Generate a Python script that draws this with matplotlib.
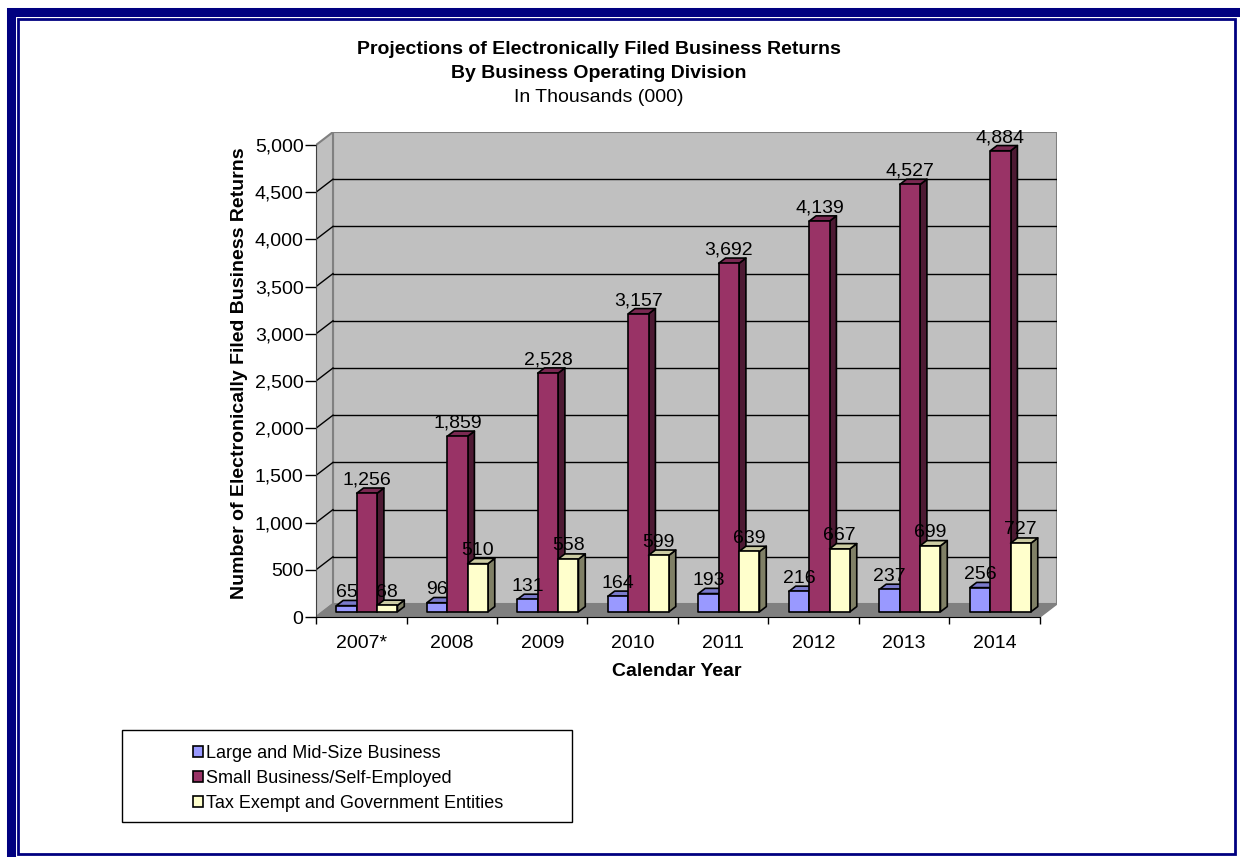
import matplotlib
matplotlib.use('Agg')
import matplotlib.pyplot as plt
from matplotlib.patches import Polygon, Rectangle, Patch
from matplotlib.ticker import FuncFormatter

plt.rcParams['font.family'] = ['Liberation Sans', 'DejaVu Sans']

# data (thousands of returns)
years = ['2007*', '2008', '2009', '2010', '2011', '2012', '2013', '2014']
lmsb = [65, 96, 131, 164, 193, 216, 237, 256]
sbse = [1256, 1859, 2528, 3157, 3692, 4139, 4527, 4884]
tege = [68, 510, 558, 599, 639, 667, 699, 727]
series_names = ['Large and Mid-Size Business',
                'Small Business/Self-Employed',
                'Tax Exempt and Government Entities']

front_cols = ['#9999FF', '#993366', '#FFFFCC']
top_cols = ['#7A7ACC', '#7A2952', '#CCCCA3']
side_cols = ['#4D4D80', '#4D1A33', '#808066']

W, H = 1240, 857
fig = plt.figure(figsize=(W / 100, H / 100), dpi=100)
fig.patch.set_facecolor('white')


def fx(px):
    return px / W


def fy(py):
    return 1 - py / H


# navy page frame
navy = '#000080'
fig.add_artist(Rectangle((fx(11), fy(870)), fx(1250 - 11), (870 - 11.5) / H, fill=False,
                         edgecolor=navy, linewidth=6.5, transform=fig.transFigure))
fig.add_artist(Rectangle((fx(18), fy(854)), fx(1235 - 18), (854 - 19) / H, fill=False,
                         edgecolor=navy, linewidth=2, transform=fig.transFigure))

# 3-D oblique geometry: depth shift in category / value units
n = len(years)
DX = 17 / 90.5
DY = 138.0
ymax = 5000

ax = fig.add_axes([fx(316), fy(617), fx(1057 - 316), (617 - 132) / H])
ax.set_xlim(0, n + DX)
ax.set_ylim(0, ymax + DY)
ax.patch.set_visible(False)


def proj(x, y, z):
    return (x + z * DX, y + z * DY)


# walls and floor
wall = '#C0C0C0'
edge = '#808080'
ax.add_patch(Polygon([proj(0, 0, 1), proj(n, 0, 1), proj(n, ymax, 1), proj(0, ymax, 1)],
                     closed=True, facecolor=wall, edgecolor=edge, linewidth=1.5, zorder=1))
ax.add_patch(Polygon([proj(0, 0, 0), proj(0, 0, 1), proj(0, ymax, 1), proj(0, ymax, 0)],
                     closed=True, facecolor=wall, edgecolor=edge, linewidth=1.5, zorder=1))
ax.add_patch(Polygon([proj(0, 0, 0), proj(n, 0, 0), proj(n, 0, 1), proj(0, 0, 1)],
                     closed=True, facecolor='#808080', edgecolor='#808080', linewidth=1, zorder=2))

# gridlines on back and side wall
for v in range(500, ymax, 500):
    x0, y0 = proj(0, v, 1)
    x1, y1 = proj(n, v, 1)
    ax.plot([x0, x1], [y0, y1], color='black', linewidth=1, zorder=1.5)
    ax.plot([0, x0], [v, y0], color='black', linewidth=1, zorder=1.5)

# bars
bar_w = 0.225
z0, z1 = 0.4, 0.8
all_series = [lmsb, sbse, tege]
for i in range(n):
    for k, vals in enumerate(all_series):
        h = vals[i]
        a = i + 0.15 + k * bar_w
        b = a + bar_w
        zo = 3 + i * 0.1 + k * 0.01
        front = [proj(a, 0, z0), proj(b, 0, z0), proj(b, h, z0), proj(a, h, z0)]
        side = [proj(b, 0, z0), proj(b, 0, z1), proj(b, h, z1), proj(b, h, z0)]
        top = [proj(a, h, z0), proj(b, h, z0), proj(b, h, z1), proj(a, h, z1)]
        ax.add_patch(Polygon(side, closed=True, facecolor=side_cols[k], edgecolor='black',
                             linewidth=1.2, zorder=zo, joinstyle='round'))
        ax.add_patch(Polygon(top, closed=True, facecolor=top_cols[k], edgecolor='black',
                             linewidth=1.2, zorder=zo, joinstyle='round'))
        ax.add_patch(Polygon(front, closed=True, facecolor=front_cols[k], edgecolor='black',
                             linewidth=1.2, zorder=zo + 0.001, joinstyle='round'))
        lx, _ = proj((a + b) / 2, h, z0)
        _, ly = proj(a, h, z1)
        ax.annotate(f'{h:,}', (lx, ly), xytext=(0, 2.5), textcoords='offset points',
                    ha='center', va='baseline', fontsize=14, zorder=10)

# axes, ticks
for s in ['top', 'right']:
    ax.spines[s].set_visible(False)
ax.spines['left'].set_bounds(0, ymax)
ax.spines['bottom'].set_bounds(0, n)
ax.spines['left'].set_color('#404040')
ax.spines['left'].set_zorder(2.5)
ax.spines['bottom'].set_zorder(2.5)
ax.set_yticks(range(0, ymax + 1, 500))
ax.yaxis.set_major_formatter(FuncFormatter(lambda v, p: f'{int(v):,}'))
ax.tick_params(axis='y', direction='out', length=8, width=1, pad=1, labelsize=14)
ax.set_xticks([i + 0.5 for i in range(n)])
ax.set_xticklabels(years)
ax.set_xticks(range(n + 1), minor=True)
ax.tick_params(axis='x', which='major', length=0, pad=13, labelsize=14)
ax.tick_params(axis='x', which='minor', direction='out', length=5, width=1)

# titles
fig.text(fx(599), fy(50), 'Projections of Electronically Filed Business Returns',
         ha='center', va='center', fontsize=14, fontweight='bold')
fig.text(fx(599), fy(73), 'By Business Operating Division',
         ha='center', va='center', fontsize=14, fontweight='bold')
fig.text(fx(599), fy(97), 'In Thousands (000)', ha='center', va='center', fontsize=14)
fig.text(fx(240), fy(373), 'Number of Electronically Filed Business Returns',
         ha='center', va='center', rotation=90, fontsize=14, fontweight='bold')
fig.text(fx(677), fy(672), 'Calendar Year', ha='center', va='center',
         fontsize=14, fontweight='bold')

# legend box
fig.add_artist(Rectangle((fx(122), fy(822)), fx(572 - 122), (822 - 730) / H,
                         facecolor='white', edgecolor='black', linewidth=1,
                         transform=fig.transFigure))
handles = [Patch(facecolor=c, edgecolor='black', linewidth=1.2) for c in front_cols]
leg = fig.legend(handles, series_names, loc='upper left',
                 bbox_to_anchor=(fx(180), fy(732)), frameon=False, fontsize=13,
                 handlelength=0.55, handleheight=0.55, handletextpad=0.2,
                 labelspacing=0.45, borderpad=0.2)

fig.savefig('out.png', dpi=100)
